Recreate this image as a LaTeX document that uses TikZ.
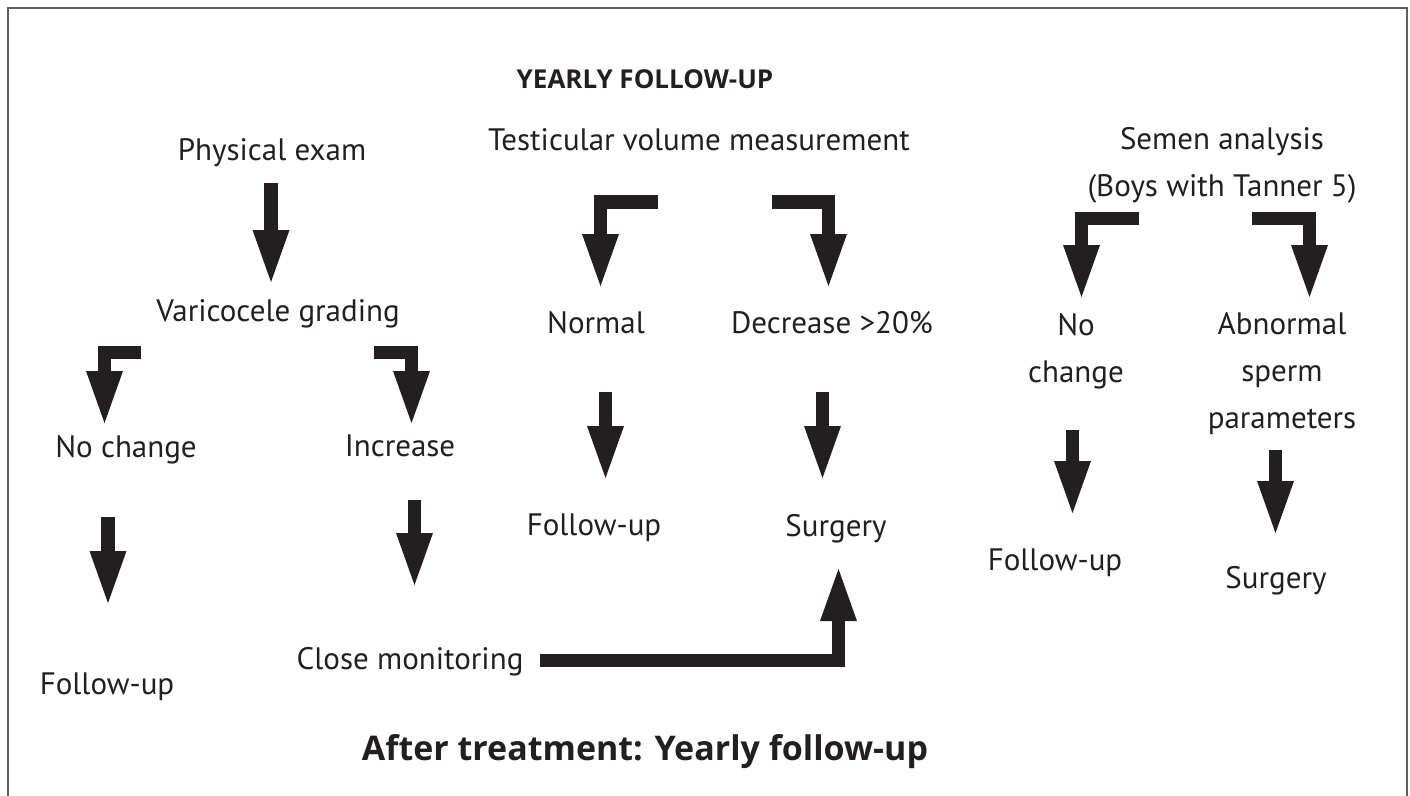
\documentclass[tikz,border=0pt]{standalone}
\usepackage{fontspec}
\setmainfont{PT Sans}
\newfontfamily\headfont{Open Sans}
\usetikzlibrary{arrows.meta}
\definecolor{ink}{RGB}{35,31,32}
\definecolor{framegray}{RGB}{95,95,95}

\begin{document}
\begin{tikzpicture}[
  x=1pt, y=-1pt,
  lbl/.style={font=\fontsize{31}{47}\selectfont, text=ink, inner sep=0pt, anchor=base},
  lblm/.style={font=\fontsize{31}{47}\selectfont, text=ink, inner sep=0pt, anchor=north, align=center},
  ttl/.style={text=ink, inner sep=0pt, anchor=base},
  a/.style={draw=ink, line width=13.5pt, line join=miter,
            -{Triangle[length=52pt, width=37pt, line width=0pt]}}
]
\useasboundingbox (0,0) rectangle (1410,795);
\draw[framegray, line width=2pt] (8,805) -- (8,8) -- (1407,8) -- (1407,805);

% ---- titles ----
\node[ttl, font=\headfont\bfseries\fontsize{26}{32}\selectfont] (top) at (645,88) {YEARLY FOLLOW-UP};
\node[ttl, font=\headfont\bfseries\fontsize{34}{40}\selectfont] (bot) at (645,760) {After treatment: Yearly follow-up};

% ---- left column: physical exam ----
\node[lbl] (pe) at (272,160) {Physical exam};
\node[lbl] (vg) at (278,321) {Varicocele grading};
\node[lbl] (nc1) at (126,457) {No change};
\node[lbl] (inc) at (400,456) {Increase};
\node[lbl] (fu1) at (107,694) {Follow-up};
\node[lbl] (cm) at (410,669) {Close monitoring};

% ---- middle column: testicular volume ----
\node[lbl] (tv) at (699,150) {Testicular volume measurement};
\node[lbl] (nm) at (596,333) {Normal};
\node[lbl] (dc) at (832,333) {Decrease >20\%};
\node[lbl] (fu2) at (594,535) {Follow-up};
\node[lbl] (su1) at (836,536) {Surgery};

% ---- right column: semen analysis ----
\node[lblm] (sa) at (1222,127) {Semen analysis\\(Boys with Tanner 5)};
\node[lblm] (nc2) at (1076,313) {No\\change};
\node[lblm] (ab) at (1282,312) {Abnormal\\sperm\\parameters};
\node[lbl] (fu3) at (1055,570) {Follow-up};
\node[lbl] (su3) at (1276,588) {Surgery};

% ---- arrows ----
\draw[a] ([xshift=-1pt, yshift=-23pt]pe.base) -- ([xshift=-7pt, yshift=39pt]vg.base);
\draw[a] ([xshift=-137pt, yshift=-31.5pt]vg.base) -| ([xshift=-21.5pt, yshift=34pt]nc1.base);
\draw[a] ([xshift=96pt, yshift=-31.5pt]vg.base) -| ([xshift=11.5pt, yshift=33pt]inc.base);
\draw[a] ([xshift=-18pt, yshift=-60pt]nc1.base) -- ([xshift=1pt, yshift=91pt]fu1.base);
\draw[a] ([xshift=14.5pt, yshift=-44pt]inc.base) -- ([xshift=4.5pt, yshift=84pt]cm.base);
\draw[a] ([xshift=130pt, yshift=8.5pt]cm.base) -| ([xshift=2.5pt, yshift=-33pt]su1.base);

\draw[a] ([xshift=-41pt, yshift=-52pt]tv.base) -| ([xshift=4.5pt, yshift=47pt]nm.base);
\draw[a] ([xshift=73pt, yshift=-52pt]tv.base) -| ([xshift=-3.5pt, yshift=47pt]dc.base);
\draw[a] ([xshift=9.5pt, yshift=-59pt]nm.base) -- ([xshift=11.5pt, yshift=57pt]fu2.base);
\draw[a] ([xshift=-9.5pt, yshift=-59pt]dc.base) -- ([xshift=-13.5pt, yshift=58pt]su1.base);

\draw[a] ([xshift=-83pt, yshift=-15pt]sa.south) -| ([xshift=5.5pt, yshift=16pt]nc2.north);
\draw[a] ([xshift=30pt, yshift=-15pt]sa.south) -| ([xshift=27.5pt, yshift=15pt]ab.north);
\draw[a] ([xshift=-3.5pt, yshift=-41pt]nc2.south) -- ([xshift=17.5pt, yshift=57pt]fu3.base);
\draw[a] ([xshift=-6.5pt, yshift=-15pt]ab.south) -- ([xshift=-0.5pt, yshift=55pt]su3.base);
\end{tikzpicture}
\end{document}
